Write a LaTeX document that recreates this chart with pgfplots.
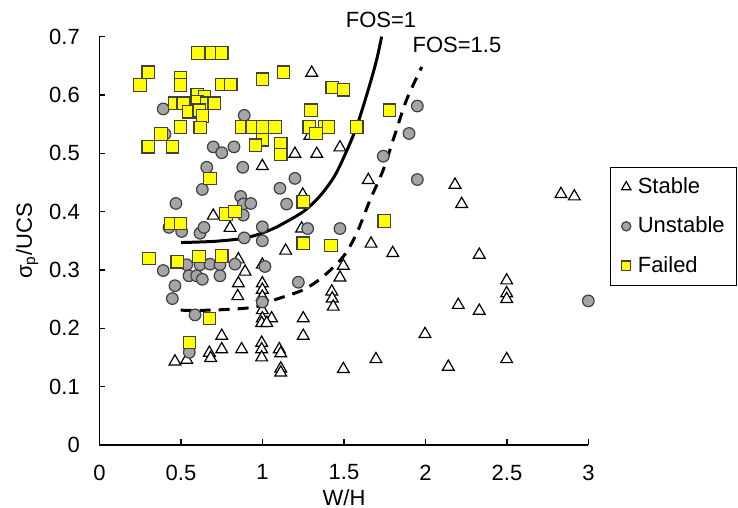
\documentclass[border=0pt]{standalone}
\usepackage{fontspec}
\setmainfont{Liberation Sans}
\usepackage{pgfplots}
\pgfplotsset{compat=1.18}
\definecolor{unst}{HTML}{A5A5A5}
\definecolor{edge}{HTML}{404040}
\definecolor{fail}{HTML}{FFFF00}
\pgfplotsset{leg/.style={legend image code/.code={\path (0pt,-3pt) (7pt,3pt); \draw[mark size=#1] plot coordinates {(3.5pt,0pt)};}}}
\begin{document}
\begin{tikzpicture}[font=\fontsize{11}{13.2}\selectfont]
\begin{axis}[name=ax, scale only axis, width=244.5pt, height=204.2pt,
 xmin=0, xmax=3, ymin=0, ymax=0.7,
 axis lines*=left, axis line style={line width=0.6pt, black},
 tick align=inside, major tick length=3pt, tick style={line width=0.6pt, black},
 xtick={0,0.5,1,1.5,2,2.5,3}, xticklabels={0,0.5,1,1.5,2,2.5,3},
 ytick={0,0.1,0.2,0.3,0.4,0.5,0.6,0.7}, yticklabels={0,0.1,0.2,0.3,0.4,0.5,0.6,0.7},
 xticklabel style={yshift=-6.3pt}, yticklabel style={xshift=-6.3pt},
 xlabel={W/H}, ylabel={σ\textsubscript{p}/UCS},
 xlabel style={at={(axis description cs:0.5,0)}, anchor=center, yshift=-26.5pt},
 ylabel style={at={(axis description cs:-0.148,0.5)}, anchor=center},
 clip=false,
 legend cell align=left,
 legend style={at={(1.044,0.681)}, anchor=north west, draw=black, line width=0.6pt,
   inner xsep=4pt, inner ysep=3pt, row sep=6.2pt, nodes={inner sep=2pt}},
]
% FOS curves
\addplot[black, line width=1.5pt, smooth, forget plot] coordinates {
(0.5,0.347)(0.7,0.349)(0.88,0.354)(0.985,0.362)(1.05,0.369)(1.11,0.377)(1.25,0.40)(1.35,0.426)(1.44,0.46)(1.51,0.50)(1.578,0.546)(1.65,0.61)(1.70,0.66)(1.731,0.70)};
\addplot[black, line width=1.5pt, dash pattern=on 5.5pt off 4pt, smooth, forget plot] coordinates {
(0.498,0.231)(0.658,0.231)(0.825,0.233)(0.964,0.237)(1.077,0.249)(1.25,0.266)(1.373,0.289)(1.496,0.323)(1.578,0.363)(1.66,0.42)(1.74,0.471)(1.81,0.53)(1.883,0.591)(1.977,0.648)};
% Stable
\addplot[only marks, mark=triangle*, mark size=3.4pt, mark options={fill=white, draw=black, line width=0.6pt}, leg=2.7pt] coordinates {
(0.999,0.478)(1.302,0.638)(1.291,0.530)(1.199,0.499)(1.333,0.499)(1.475,0.510)(1.649,0.454)
(0.698,0.393)(0.801,0.372)(0.852,0.318)(0.893,0.297)(0.852,0.277)(0.848,0.255)
(0.999,0.309)(0.999,0.277)(0.999,0.266)(0.999,0.254)(0.999,0.231)(0.999,0.217)
(1.247,0.429)(1.240,0.371)(1.142,0.333)(1.666,0.345)(1.799,0.329)(1.496,0.307)(1.475,0.287)
(1.425,0.263)(1.428,0.251)(1.434,0.237)(1.056,0.217)(1.250,0.217)(0.995,0.209)(0.750,0.187)
(0.750,0.164)(0.872,0.164)(0.995,0.175)(0.995,0.164)(0.995,0.150)(0.535,0.146)(0.463,0.143)
(0.674,0.158)(0.682,0.149)(1.026,0.209)(1.250,0.187)(1.103,0.164)(1.112,0.157)(1.112,0.131)
(1.112,0.124)(1.496,0.130)(1.696,0.147)(1.997,0.190)(2.181,0.446)(2.222,0.413)(2.831,0.430)
(2.913,0.426)(2.330,0.326)(2.498,0.282)(2.498,0.260)(2.498,0.250)(2.201,0.240)(2.330,0.230)
(2.498,0.147)(2.140,0.134)};
\addlegendentry{Stable}
% Unstable
\addplot[only marks, mark=*, mark size=2.9pt, mark options={fill=unst, draw=edge, line width=0.6pt}, leg=2.3pt] coordinates {
(0.391,0.576)(0.402,0.533)(0.888,0.565)(0.698,0.511)(0.750,0.501)(0.825,0.511)(0.658,0.476)
(0.879,0.476)(1.950,0.581)(1.899,0.534)(1.741,0.495)(1.199,0.457)(1.950,0.455)(0.631,0.438)
(0.469,0.414)(0.866,0.426)(0.882,0.413)(0.928,0.414)(0.882,0.394)(0.426,0.373)(0.504,0.366)
(0.617,0.363)(0.641,0.373)(0.888,0.355)(0.999,0.374)(0.999,0.350)(0.391,0.299)(0.535,0.309)
(0.549,0.290)(0.596,0.290)(0.631,0.284)(0.617,0.309)(0.678,0.310)(0.739,0.309)(0.739,0.290)
(0.831,0.310)(1.015,0.306)(0.463,0.273)(0.447,0.251)(0.999,0.245)(0.586,0.223)(1.107,0.440)
(1.148,0.413)(1.277,0.371)(1.475,0.371)(1.220,0.279)(0.551,0.159)(2.999,0.247)};
\addlegendentry{Unstable}
% Failed
\addplot[only marks, mark=square*, mark size=3.1pt, mark options={fill=fail, draw=edge, line width=0.6pt}, leg=2.3pt] coordinates {
(0.604,0.672)(0.688,0.672)(0.750,0.672)(0.299,0.639)(0.248,0.617)(0.498,0.629)(0.498,0.617)
(0.750,0.618)(0.805,0.618)(0.999,0.627)(0.600,0.600)(0.643,0.597)(0.463,0.586)(0.514,0.586)
(0.600,0.589)(0.658,0.586)(0.704,0.586)(0.549,0.571)(0.612,0.574)(0.631,0.564)(0.498,0.545)
(0.618,0.544)(0.872,0.545)(0.937,0.545)(0.999,0.545)(0.999,0.523)(0.958,0.514)(0.377,0.533)
(0.299,0.511)(0.447,0.511)(0.678,0.457)(1.128,0.639)(1.428,0.613)(1.496,0.609)(1.298,0.574)
(1.077,0.545)(1.287,0.545)(1.383,0.545)(1.404,0.545)(1.328,0.534)(1.578,0.545)(1.778,0.574)
(1.112,0.517)(1.112,0.498)(0.776,0.396)(0.831,0.400)(0.439,0.380)(0.498,0.380)(0.304,0.320)
(0.477,0.314)(0.610,0.323)(0.750,0.324)(0.674,0.217)(0.551,0.176)(1.250,0.417)(1.250,0.346)
(1.420,0.342)(1.747,0.384)};
\addlegendentry{Failed}
\node at (axis cs:1.727,0.729) {FOS=1};
\node at (axis cs:2.193,0.686) {FOS=1.5};
\end{axis}
\pgfresetboundingbox
\useasboundingbox (ax.south west) ++(-49.75pt,-31.5pt) rectangle ++(369pt,254pt);
\end{tikzpicture}
\end{document}
